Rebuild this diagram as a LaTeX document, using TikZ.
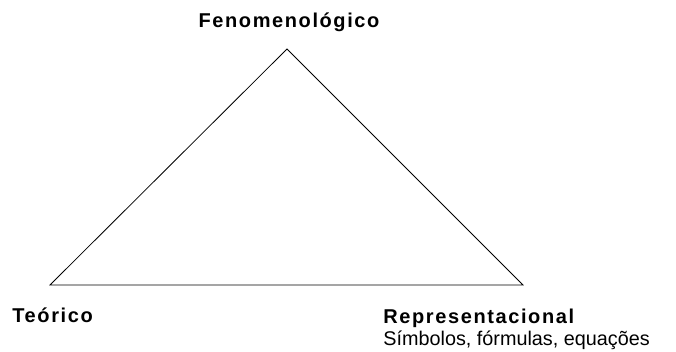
\documentclass[tikz,border=0pt]{standalone}
\usepackage{fontspec}
\setmainfont{Liberation Sans}
\newfontfamily\headfont[LetterSpace=8]{Liberation Sans}
\usepackage{tikz}
\usetikzlibrary{positioning}

\begin{document}
\begin{tikzpicture}[x=1pt, y=1pt, line width=0.8pt,
    head/.style={inner sep=0pt, font=\headfont\bfseries\fontsize{20}{22}\selectfont},
    sub/.style={inner sep=0pt, font=\fontsize{19.8}{22}\selectfont}]
  \useasboundingbox (0,0) rectangle (676,352);
  \coordinate (apex) at (287,303);
  \coordinate (teor) at (50,67);
  \coordinate (repr) at (523,67);
  \draw (teor) -- (apex) -- (repr) -- cycle;
  \node[head, anchor=base] (fen) at (289,324) {Fenomenológico};
  \node[head, anchor=base west] (teo) at (12,29) {Teórico};
  \node[head, anchor=base west] (rep) at (383,28.5) {Representacional};
  \node[sub, anchor=base west] (sim) at (383,6) {Símbolos, fórmulas, equações};
\end{tikzpicture}
\end{document}
